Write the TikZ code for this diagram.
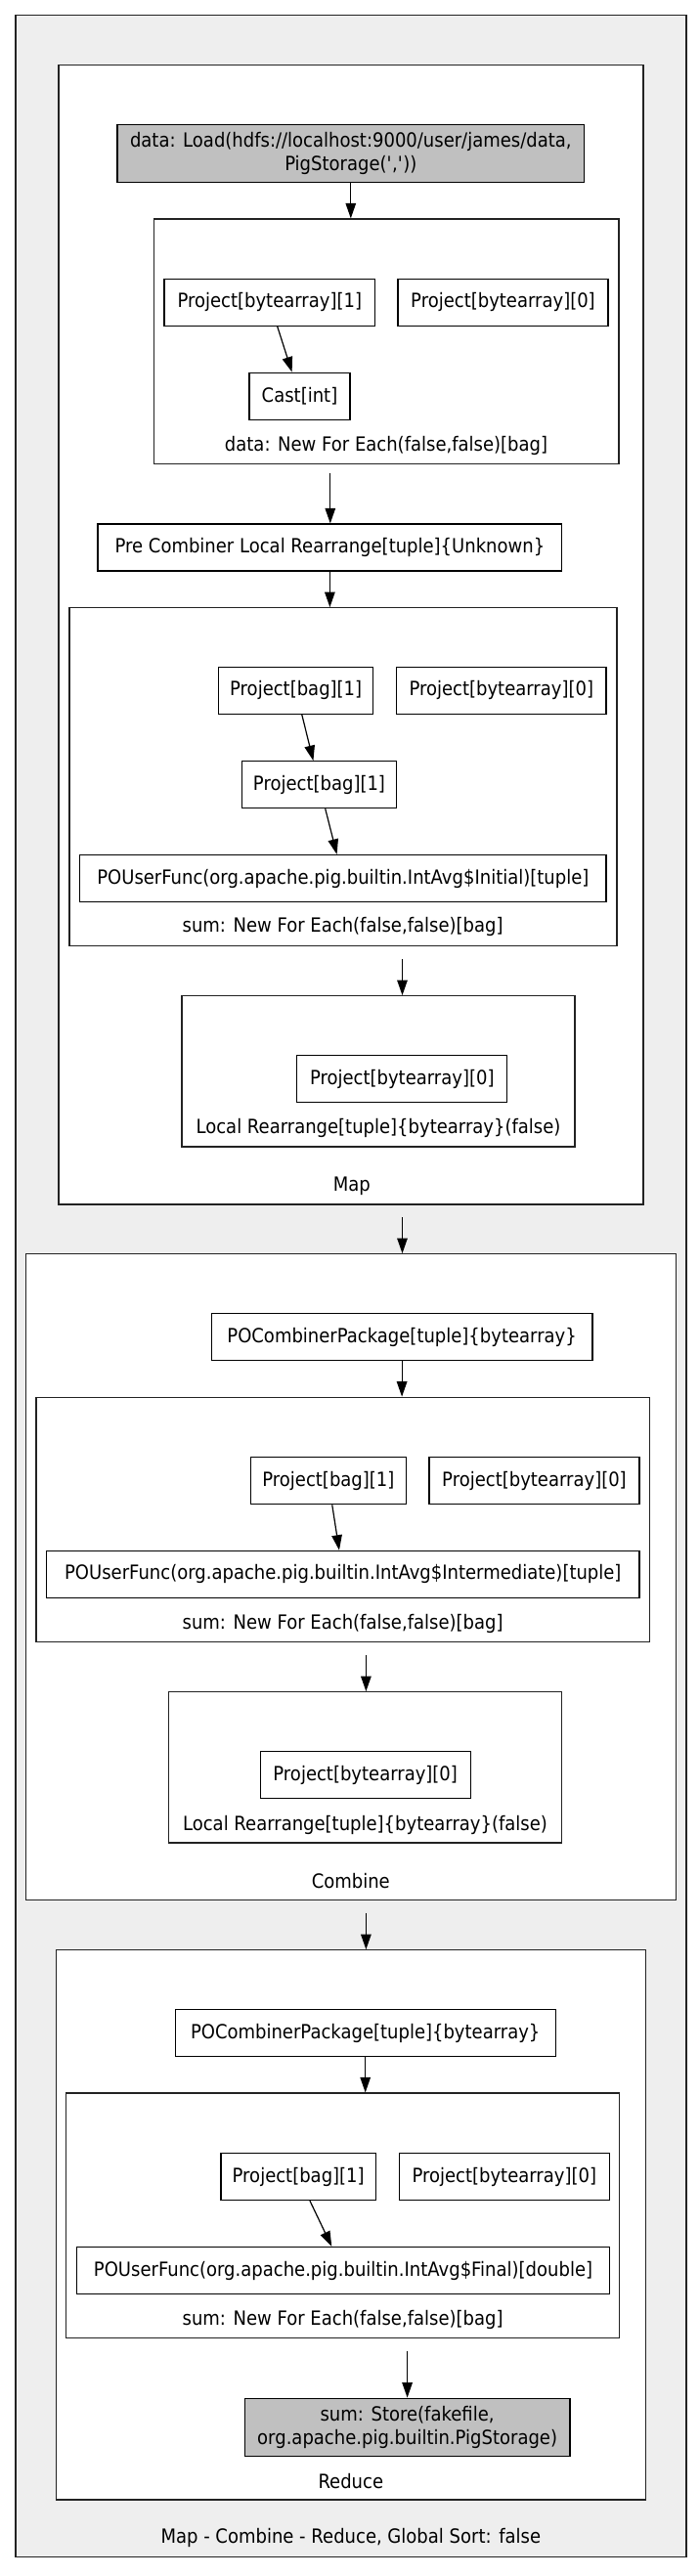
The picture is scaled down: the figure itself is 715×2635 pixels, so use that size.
\documentclass[tikz,border=0pt]{standalone}
\usepackage{fontspec}
\setmainfont{DejaVu Sans}[FakeStretch=0.9]
\usetikzlibrary{arrows.meta,positioning,fit}
\definecolor{planfill}{HTML}{EEEEEE}
\definecolor{iofill}{HTML}{C0C0C0}
\definecolor{edgeline}{HTML}{222222}
\newcommand{\dotfont}{\fontsize{20}{24}\selectfont}
\tikzset{
  opbox/.style={draw=black, line width=1.2pt, fill=white, inner sep=0pt,
    minimum height=48pt, font=\dotfont},
  iobox/.style={opbox, fill=iofill, align=center, minimum height=59pt},
  clusterbox/.style={draw=edgeline, line width=1.2pt, fill=white, inner sep=0pt},
  planbox/.style={clusterbox, fill=planfill},
  cllabel/.style={font=\dotfont, inner sep=0pt},
  arr/.style={-{Triangle[length=15.5pt,width=10.5pt]}, line width=1.2pt, draw=black}
}
\begin{document}
\begin{tikzpicture}[x=1pt,y=-1pt]
    \useasboundingbox (0,0) rectangle (715,2635);
    \node[planbox, fit={(16,15.7) (702,2615.3)}] (plan) {};
    \node[cllabel] (planlbl) at (358.8,2596) {Map - Combine - Reduce, Global Sort: false};
    % map
    \node[clusterbox, fit={(60,66.7) (658,1232)}] (map) {};
    \node[cllabel] (maplbl) at (359.8,1213.3) {Map};
    \node[iobox, minimum width=477.6pt] (load) at (358.8,157.2) {data: Load(hdfs://localhost:9000/user/james/data,\\PigStorage(\textquotesingle,\textquotesingle))};
    \node[clusterbox, fit={(157.7,224) (633,474.3)}] (datafe) {};
    \node[cllabel] (datafelbl) at (395,456) {data: New For Each(false,false)[bag]};
    \node[opbox, minimum width=215.6pt] (dproj1) at (275.8,309.2) {Project[bytearray][1]};
    \node[opbox, minimum width=215pt] (dproj0) at (514.5,309.2) {Project[bytearray][0]};
    \node[opbox, minimum width=103pt] (cast) at (306.5,405.2) {Cast[int]};
    \node[opbox, minimum width=474.7pt] (precomb) at (337.4,560) {Pre Combiner Local Rearrange[tuple]\{Unknown\}};
    \node[clusterbox, fit={(71,621.7) (631,967.7)}] (mapfe) {};
    \node[cllabel] (mapfelbl) at (350.6,948.3) {sum: New For Each(false,false)[bag]};
    \node[opbox, minimum width=158.2pt] (mbag1) at (302.7,706.3) {Project[bag][1]};
    \node[opbox, minimum width=214.4pt] (mproj0) at (512.8,706.3) {Project[bytearray][0]};
    \node[opbox, minimum width=158.1pt] (mbag2) at (326.5,802.7) {Project[bag][1]};
    \node[opbox, minimum width=538.4pt] (initial) at (350.8,898.5) {POUserFunc(org.apache.pig.builtin.IntAvg\$Initial)[tuple]};
    \node[clusterbox, fit={(186,1018.7) (588,1173)}] (maplr) {};
    \node[cllabel] (maplrlbl) at (387,1154.3) {Local Rearrange[tuple]\{bytearray\}(false)};
    \node[opbox, minimum width=215pt] (mlrproj) at (411.3,1103.8) {Project[bytearray][0]};
    \draw[arr] (load) -- (load |- datafe.north);
    \draw[arr] (dproj1) -- (cast);
    \coordinate (datafe-out) at (337.8,484);
    \draw[arr] (datafe-out) -- (datafe-out |- precomb.north);
    \draw[arr] (precomb) -- (precomb |- mapfe.north);
    \draw[arr] (mbag1) -- (mbag2);
    \draw[arr] (mbag2) -- (initial);
    \coordinate (mapfe-out) at (411.5,981);
    \draw[arr] (mapfe-out) -- (mapfe-out |- maplr.north);
    % combine
    \node[clusterbox, fit={(26.6,1282.7) (691.6,1943.7)}] (combine) {};
    \node[cllabel] (combinelbl) at (358.8,1924) {Combine};
    \coordinate (map-out) at (411.5,1245);
    \draw[arr] (map-out) -- (map-out |- combine.north);
    \node[opbox, minimum width=389.6pt] (cpack) at (411.1,1367.8) {POCombinerPackage[tuple]\{bytearray\}};
    \node[clusterbox, fit={(37,1429.3) (664.5,1679.7)}] (combfe) {};
    \node[cllabel] (combfelbl) at (350.6,1660.7) {sum: New For Each(false,false)[bag]};
    \node[opbox, minimum width=158.6pt] (cbag) at (335.9,1514.7) {Project[bag][1]};
    \node[opbox, minimum width=215pt] (cproj0) at (546.5,1514.7) {Project[bytearray][0]};
    \node[opbox, minimum width=606.3pt] (intermed) at (350.8,1610.3) {POUserFunc(org.apache.pig.builtin.IntAvg\$Intermediate)[tuple]};
    \node[clusterbox, fit={(172.3,1730.7) (574.7,1885)}] (comblr) {};
    \node[cllabel] (comblrlbl) at (373.5,1866.7) {Local Rearrange[tuple]\{bytearray\}(false)};
    \node[opbox, minimum width=214.9pt] (clrproj) at (373.7,1815.7) {Project[bytearray][0]};
    \draw[arr] (cpack) -- (cpack |- combfe.north);
    \draw[arr] (cbag) -- (intermed);
    \coordinate (combfe-out) at (374.4,1693.3);
    \draw[arr] (combfe-out) -- (combfe-out |- comblr.north);
    % reduce
    \node[clusterbox, fit={(57.3,1994.7) (660.4,2557)}] (reduce) {};
    \node[cllabel] (reducelbl) at (358.8,2538.3) {Reduce};
    \coordinate (combine-out) at (374.4,1956.7);
    \draw[arr] (combine-out) -- (combine-out |- reduce.north);
    \node[opbox, minimum width=389.1pt] (rpack) at (373.7,2079.8) {POCombinerPackage[tuple]\{bytearray\}};
    \node[clusterbox, fit={(67.8,2141) (633.8,2391.7)}] (redfe) {};
    \node[cllabel] (redfelbl) at (350.6,2372.7) {sum: New For Each(false,false)[bag]};
    \node[opbox, minimum width=158.5pt] (rbag) at (305.2,2226.5) {Project[bag][1]};
    \node[opbox, minimum width=215pt] (rproj0) at (515.8,2226.5) {Project[bytearray][0]};
    \node[opbox, minimum width=544.5pt] (final) at (351,2322.5) {POUserFunc(org.apache.pig.builtin.IntAvg\$Final)[double]};
    \node[iobox, minimum width=332.8pt] (store) at (416.6,2482.7) {sum: Store(fakefile,\\org.apache.pig.builtin.PigStorage)};
    \draw[arr] (rpack) -- (rpack |- redfe.north);
    \draw[arr] (rbag) -- (final);
    \coordinate (redfe-out) at (416.6,2405);
    \draw[arr] (redfe-out) -- (store);
  \end{tikzpicture}
\end{document}
